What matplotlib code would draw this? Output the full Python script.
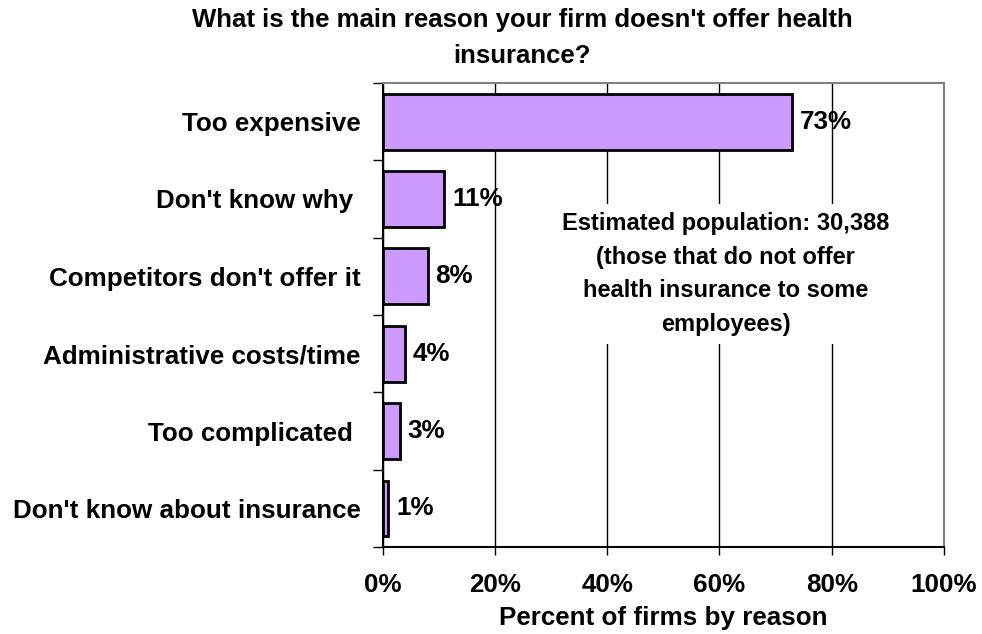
import matplotlib.pyplot as plt
import numpy as np

plt.rcParams['font.family'] = ['Liberation Sans', 'DejaVu Sans']
plt.rcParams['font.weight'] = 'bold'

# Survey answers, top to bottom
reasons = ["Too expensive", "Don't know why ", "Competitors don't offer it",
           "Administrative costs/time", "Too complicated ",
           "Don't know about insurance"]
shares = [73, 11, 8, 4, 3, 1]
x_ticks = [0, 20, 40, 60, 80, 100]

FS = 18.7

fig = plt.figure(figsize=(9.82, 6.34), dpi=100)
ax = fig.add_axes([0.3897, 0.1372, 0.5716, 0.7319])

pos = np.arange(len(reasons))
ax.barh(pos, shares, height=0.72, color='#CC99FF', edgecolor='black',
        linewidth=2, zorder=3)
for y, v in zip(pos, shares):
    ax.text(v + 1.4, y, f'{v}%', va='center', ha='left', fontsize=FS,
            fontweight='bold', zorder=4)

ax.set_xlim(0, 100)
ax.set_ylim(len(reasons) - 0.5, -0.5)

# category names centred on bars, tick marks between categories
ax.set_yticks(pos)
ax.set_yticklabels(reasons, fontsize=FS, fontweight='bold')
ax.tick_params(axis='y', length=0, pad=16)
ax.set_yticks(np.arange(-0.5, len(reasons)), minor=True)
ax.tick_params(axis='y', which='minor', length=7, width=1, direction='out')

ax.set_xticks(x_ticks)
ax.set_xticklabels([f'{t}%' for t in x_ticks], fontsize=FS, fontweight='bold')
ax.tick_params(axis='x', length=6, width=1, direction='out', pad=13)
ax.xaxis.grid(True, color='black', linewidth=1, zorder=0)
ax.set_axisbelow(True)

ax.set_xlabel('Percent of firms by reason', fontsize=FS, fontweight='bold',
              labelpad=6)

for side in ['top', 'right']:
    ax.spines[side].set_color('#808080')
    ax.spines[side].set_linewidth(1.5)
for side in ['left', 'bottom']:
    ax.spines[side].set_color('black')
    ax.spines[side].set_linewidth(1.5)

ax.text(61.1, 1.97, 'Estimated population: 30,388\n(those that do not offer\n'
        'health insurance to some\nemployees)', ha='center', va='center',
        fontsize=17, fontweight='bold', linespacing=1.58, zorder=2,
        bbox=dict(facecolor='white', edgecolor='none', pad=6))

fig.text(0.532, 0.988, "What is the main reason your firm doesn't offer health\ninsurance?",
         ha='center', va='top', fontsize=18.5, fontweight='bold', linespacing=1.65)

fig.savefig('out.png', dpi=100)
